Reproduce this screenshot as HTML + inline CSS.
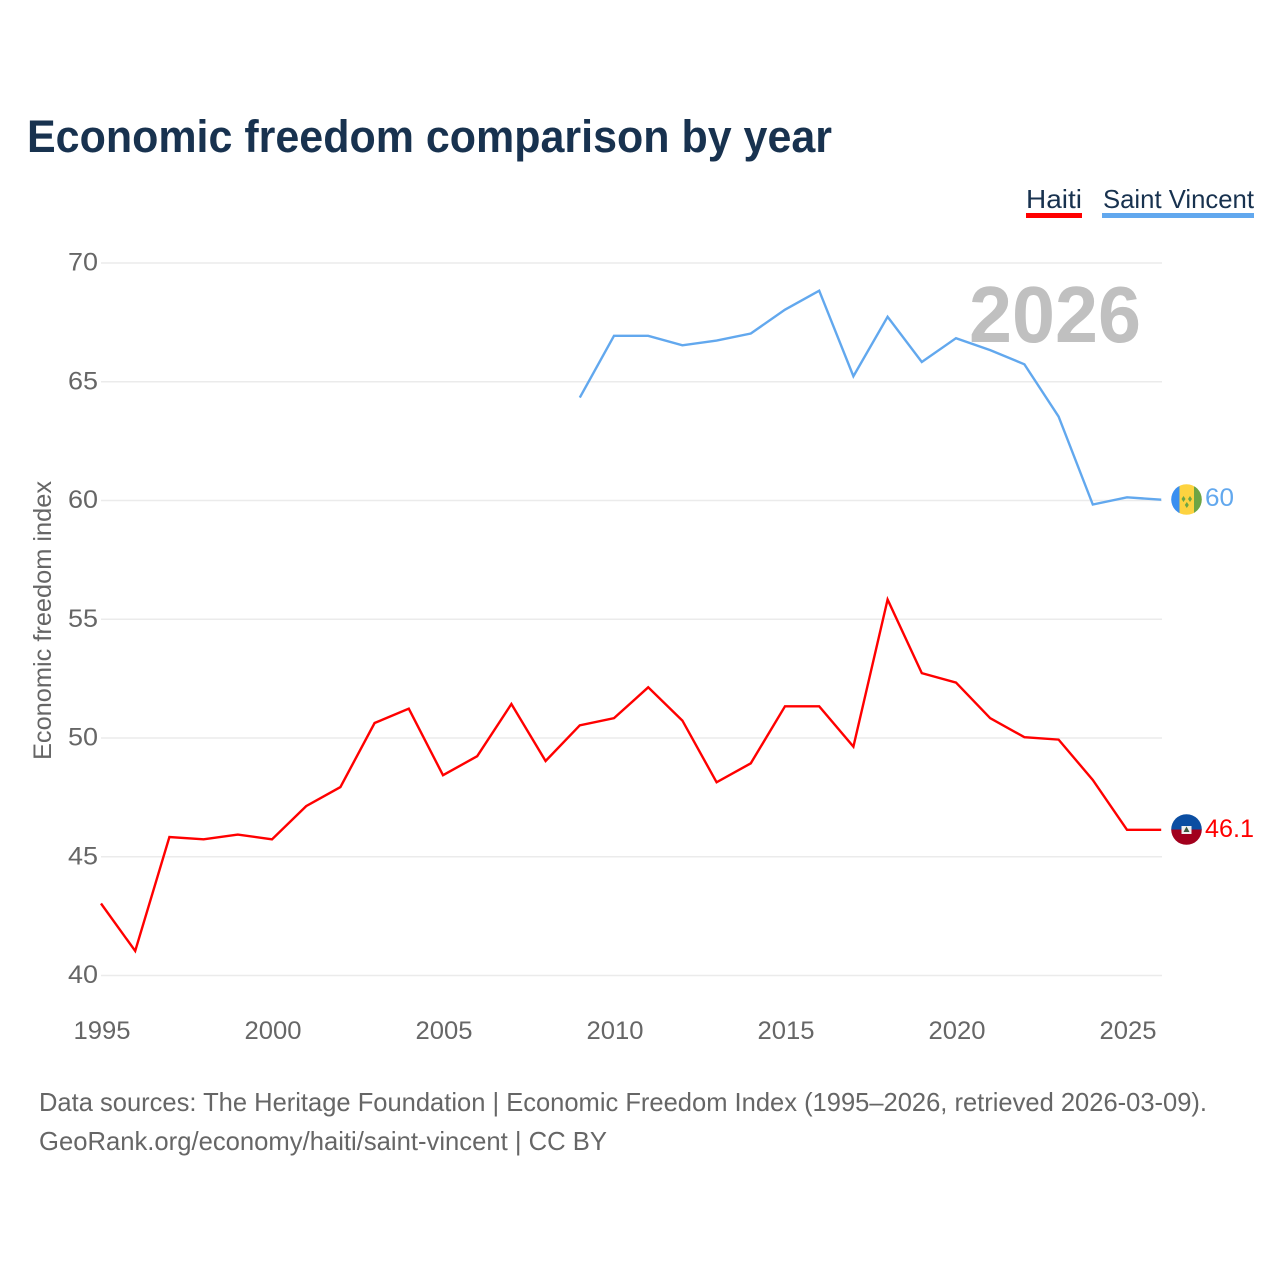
<!DOCTYPE html>
<html lang="en">
<head>
<meta charset="utf-8">
<title>Economic freedom comparison by year</title>
<style>
html,body{margin:0;padding:0;background:#fff;}
svg{display:block;}
text{font-family:"Liberation Sans",sans-serif;}
</style>
</head>
<body>
<svg id="chart" xmlns="http://www.w3.org/2000/svg" width="1280" height="1280" viewBox="0 0 1280 1280">
  <defs>
    <clipPath id="clip-sv"><circle cx="1186.500" cy="499.500" r="15.300"/></clipPath>
    <clipPath id="clip-ht"><circle cx="1186.500" cy="829.500" r="15.300"/></clipPath>
  </defs>
  <rect width="1280" height="1280" fill="#fff"/>
  <text x="27" y="152" font-size="45" font-weight="700" fill="#18324f" textLength="805" lengthAdjust="spacingAndGlyphs">Economic freedom comparison by year</text>

  <g>
    <text x="1026" y="208" font-size="26" fill="#18324f" textLength="56" lengthAdjust="spacingAndGlyphs">Haiti</text>
    <rect x="1026" y="213" width="56" height="5" fill="#ff0000"/>
  </g>
  <g>
    <text x="1103" y="208" font-size="26" fill="#18324f" textLength="151" lengthAdjust="spacingAndGlyphs">Saint Vincent</text>
    <rect x="1102" y="213" width="152" height="5" fill="#62a8ee"/>
  </g>

  <g id="grid"></g>
  <g id="yticks"></g>
  <g id="xticks"></g>

  <text transform="translate(51,760) rotate(-90)" x="0" y="0" font-size="25" fill="#666" textLength="279" lengthAdjust="spacingAndGlyphs">Economic freedom index</text>

  <text x="969" y="342" font-size="80" font-weight="700" fill="#c0c0c0" textLength="172" lengthAdjust="spacingAndGlyphs">2026</text>

  <g id="series" transform="translate(-0.5,-0.8)"></g>

  <g clip-path="url(#clip-sv)">
    <rect x="1171" y="484" width="8.500" height="31" fill="#3a8ff0"/>
    <rect x="1179.500" y="484" width="14.500" height="31" fill="#fdd340"/>
    <rect x="1194" y="484" width="8" height="31" fill="#6da544"/>
    <path d="M1183.500 496l2 3-2 3-2-3zM1190 496l2 3-2 3-2-3zM1186.800 502l2 3-2 3-2-3z" fill="#6da544"/>
  </g>
  <g clip-path="url(#clip-ht)">
    <rect x="1171" y="814" width="31" height="15.500" fill="#0b4ea2"/>
    <rect x="1171" y="829.500" width="31" height="15.500" fill="#a2001d"/>
    <rect x="1181.500" y="826" width="10" height="8" fill="#f0f0f0"/>
    <path d="M1186.500 826.500l3 5.500h-6z" fill="#3d5a40"/>
  </g>

  <text id="end-sv" x="1205" y="506" font-size="25" fill="#62a8ee" textLength="29" lengthAdjust="spacingAndGlyphs"></text>
  <text id="end-ht" x="1205" y="837" font-size="25" fill="#ff0000" textLength="49" lengthAdjust="spacingAndGlyphs"></text>

  <text x="39" y="1111" font-size="26" fill="#666" textLength="1168" lengthAdjust="spacingAndGlyphs">Data sources: The Heritage Foundation | Economic Freedom Index (1995–2026, retrieved 2026-03-09).</text>
  <text x="39" y="1150" font-size="26" fill="#666" textLength="568" lengthAdjust="spacingAndGlyphs">GeoRank.org/economy/haiti/saint-vincent | CC BY</text>
</svg>
<script>
const yTicks = [40, 45, 50, 55, 60, 65, 70];
const xTicks = [1995, 2000, 2005, 2010, 2015, 2020, 2025];
const haitiYears = [1995,1996,1997,1998,1999,2000,2001,2002,2003,2004,2005,2006,2007,2008,2009,2010,2011,2012,2013,2014,2015,2016,2017,2018,2019,2020,2021,2022,2023,2024,2025,2026];
const haitiValues = [43,41,45.8,45.7,45.9,45.7,47.1,47.9,50.6,51.2,48.4,49.2,51.4,49,50.5,50.8,52.1,50.7,48.1,48.9,51.3,51.3,49.6,55.8,52.7,52.3,50.8,50,49.9,48.2,46.1,46.1];
const vincentYears = [2009,2010,2011,2012,2013,2014,2015,2016,2017,2018,2019,2020,2021,2022,2023,2024,2025,2026];
const vincentValues = [64.3,66.9,66.9,66.5,66.7,67,68,68.8,65.2,67.7,65.8,66.8,66.3,65.7,63.5,59.8,60.1,60];

const NS = 'http://www.w3.org/2000/svg';
function xScale(year) { return 101.5 + (year - 1995) * 34.2; }
function yScale(value) { return 975.5 - (value - 40) * 23.75; }

const grid = document.getElementById('grid');
const yLabels = document.getElementById('yticks');
const xLabels = document.getElementById('xticks');
const series = document.getElementById('series');

yTicks.forEach(function (tick) {
  const line = document.createElementNS(NS, 'line');
  
  
  line.setAttribute('x1', 101);
  line.setAttribute('x2', 1162);
  line.setAttribute('y1', yScale(tick));
  line.setAttribute('y2', yScale(tick));
  line.setAttribute('stroke', '#ebebeb');
  line.setAttribute('stroke-width', '1.5');
  grid.appendChild(line);

  const label = document.createElementNS(NS, 'text');
  
  
  label.setAttribute('x', 98);
  label.setAttribute('y', yScale(tick) + 7.5);
  label.setAttribute('text-anchor', 'end');
  label.setAttribute('font-size', '25');
  label.setAttribute('fill', '#666');
  label.setAttribute('textLength', '30');
  label.setAttribute('lengthAdjust', 'spacingAndGlyphs');
  label.textContent = tick;
  yLabels.appendChild(label);
});

xTicks.forEach(function (tick) {
  const label = document.createElementNS(NS, 'text');
  
  
  label.setAttribute('x', xScale(tick) + 0.5);
  label.setAttribute('y', 1039);
  label.setAttribute('text-anchor', 'middle');
  label.setAttribute('font-size', '25');
  label.setAttribute('fill', '#666');
  label.setAttribute('textLength', '57');
  label.setAttribute('lengthAdjust', 'spacingAndGlyphs');
  label.textContent = tick;
  xLabels.appendChild(label);
});

function pathFor(years, values) {
  return values.map(function (value, i) {
    return (i ? 'L' : 'M') + xScale(years[i]).toFixed(1) + ' ' + yScale(value).toFixed(1);
  }).join(' ');
}

const vincentLine = document.createElementNS(NS, 'path');


vincentLine.setAttribute('d', pathFor(vincentYears, vincentValues));
vincentLine.setAttribute('fill', 'none');
vincentLine.setAttribute('stroke', '#62a8ee');
vincentLine.setAttribute('stroke-width', '2.4');
series.appendChild(vincentLine);

const haitiLine = document.createElementNS(NS, 'path');


haitiLine.setAttribute('d', pathFor(haitiYears, haitiValues));
haitiLine.setAttribute('fill', 'none');
haitiLine.setAttribute('stroke', '#ff0000');
haitiLine.setAttribute('stroke-width', '2.4');
series.appendChild(haitiLine);

document.getElementById('end-sv').textContent = vincentValues[vincentValues.length - 1];
document.getElementById('end-ht').textContent = haitiValues[haitiValues.length - 1];
</script>
</body>
</html>
